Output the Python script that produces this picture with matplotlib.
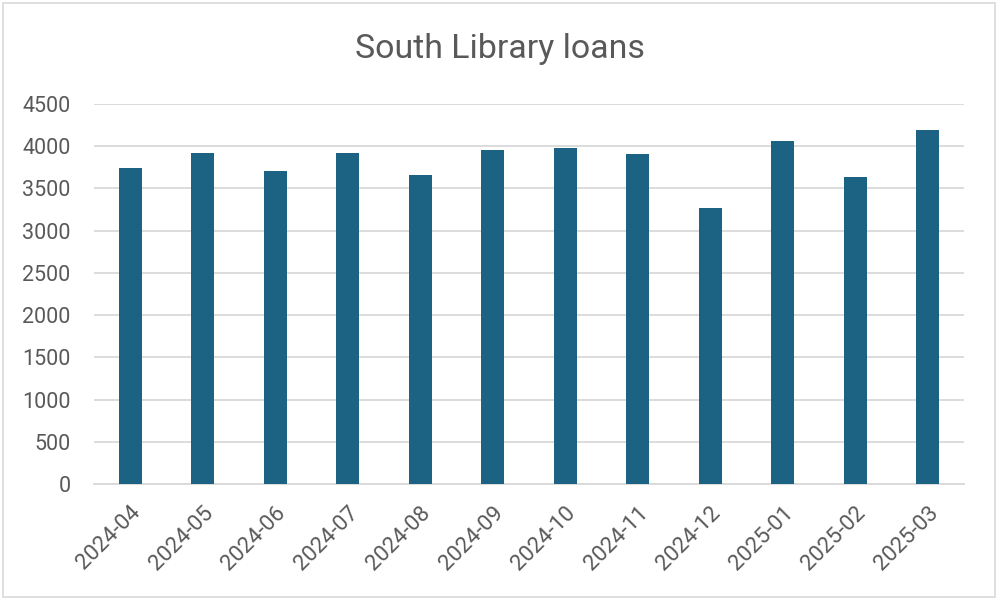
import matplotlib.pyplot as plt
from matplotlib.patches import Rectangle

months = ['2024-04', '2024-05', '2024-06', '2024-07', '2024-08', '2024-09',
          '2024-10', '2024-11', '2024-12', '2025-01', '2025-02', '2025-03']
loans = [3746, 3917, 3707, 3925, 3659, 3952, 3976, 3910, 3270, 4056, 3631, 4190]

plt.rcParams['font.family'] = ['Roboto', 'DejaVu Sans']
txt = '#595959'

fig = plt.figure(figsize=(10, 6.03), dpi=100)
ax = fig.add_axes([0.094, 1 - 484 / 603, 0.870, 380 / 603])

ax.bar(range(len(months)), loans, width=0.317, color='#1b6283', zorder=3)
ax.set_xlim(-0.5, len(months) - 0.5)
ax.set_ylim(0, 4500)
ax.set_yticks(range(0, 4501, 500))
ax.set_xticks(range(len(months)))
ax.set_xticklabels(months, rotation=45, ha='right', rotation_mode='anchor')
ax.tick_params(axis='both', length=0, colors=txt)
ax.tick_params(axis='x', pad=13, labelsize=16)
ax.tick_params(axis='y', pad=17, labelsize=15.5)
ax.grid(axis='y', color='#d9d9d9', linewidth=1.3, zorder=0)
for s in ['top', 'right', 'left']:
    ax.spines[s].set_visible(False)
ax.spines['bottom'].set_color('#d9d9d9')
ax.spines['bottom'].set_linewidth(1.3)

fig.text(0.5, 1 - 58 / 603, 'South Library loans', ha='center', va='baseline',
         fontsize=24.4, color=txt)
fig.patches.append(Rectangle((0.003, 1 - 597 / 603), 0.992, 594 / 603,
                             transform=fig.transFigure, fill=False,
                             edgecolor='#d9d9d9', linewidth=1.2))

plt.savefig('out.png', dpi=100)
